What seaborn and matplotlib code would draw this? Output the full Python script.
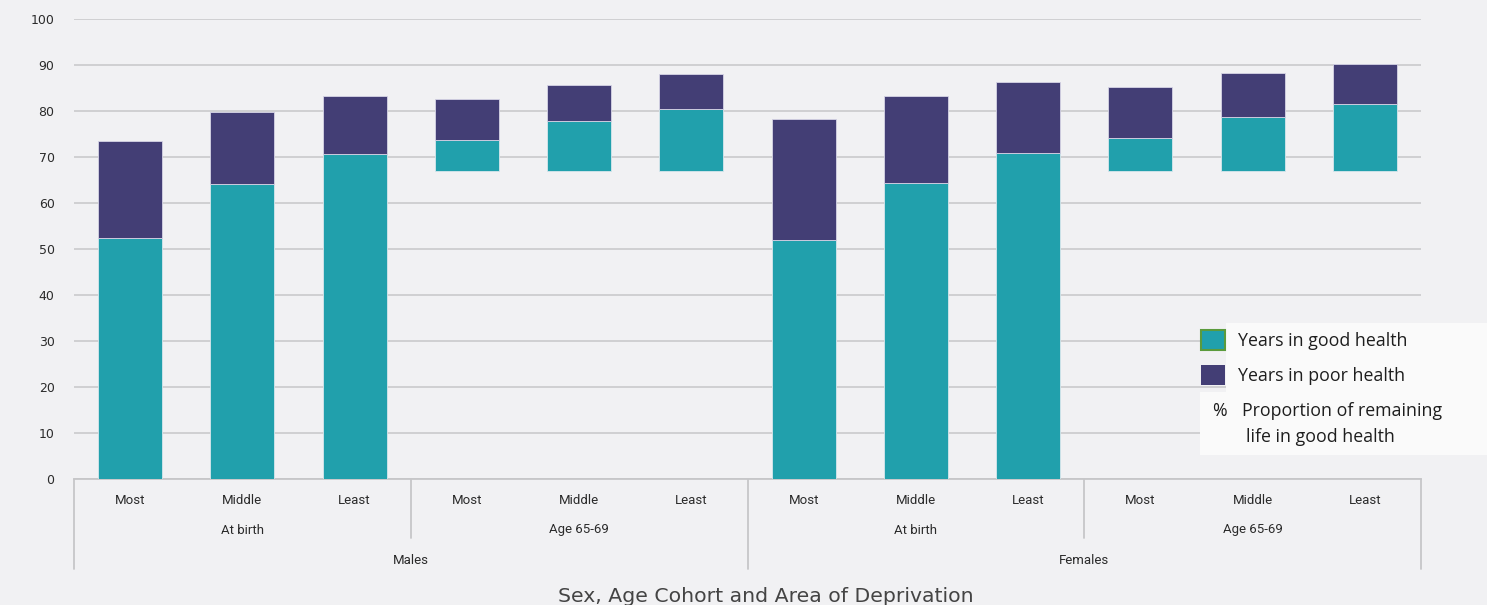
import numpy as np
import pandas as pd
import matplotlib
matplotlib.use("Agg")
import matplotlib.pyplot as plt
import seaborn as sns
from matplotlib.patches import Rectangle
from matplotlib.lines import Line2D

# ---- data ----
sexes = ["Males", "Females"]
cohorts = ["At birth", "Age 65-69"]
deprivation = ["Most", "Middle", "Least"]

# age at which each bar starts (0 for birth cohort, 67 for the 65-69 cohort)
start_age = [0, 0, 0, 67, 67, 67, 0, 0, 0, 67, 67, 67]
# age reached in good health
good_health_to = [52.4, 64.1, 70.6, 73.7, 77.8, 80.4, 52.0, 64.3, 70.9, 74.1, 78.7, 81.5]
# total life expectancy
life_expectancy = [73.5, 79.8, 83.3, 82.6, 85.7, 88.0, 78.3, 83.3, 86.3, 85.2, 88.3, 90.2]

keys = [f"{s}|{c}|{d}" for s in sexes for c in cohorts for d in deprivation]
df = pd.DataFrame({
    "key": keys,
    "start": start_age,
    "good": np.array(good_health_to) - np.array(start_age),
    "poor": np.array(life_expectancy) - np.array(good_health_to),
    "good_top": good_health_to,
})

TEAL = "#21a0ac"
PURPLE = "#433e75"
BG = "#f1f1f3"
GRID = "#c6c6c8"
TEXT = "#2b2b2b"

sns.set_theme(style="whitegrid")
plt.rcParams["font.family"] = ["DejaVu Sans"]

fig = plt.figure(figsize=(14.87, 6.05), dpi=100, facecolor=BG)
W, H = 1487, 605
ax = fig.add_axes([74 / W, (H - 479) / H, (1421 - 74) / W, (479 - 19) / H])
ax.set_facecolor(BG)

sns.barplot(data=df, x="key", y="good", bottom=df["start"].values, order=keys,
            color=TEAL, saturation=1, width=0.57, errorbar=None,
            edgecolor="#d8e6ec", linewidth=0.6, ax=ax, zorder=3)
sns.barplot(data=df, x="key", y="poor", bottom=df["good_top"].values, order=keys,
            color=PURPLE, saturation=1, width=0.57, errorbar=None,
            edgecolor="#d6d4e6", linewidth=0.6, ax=ax, zorder=3)

ax.set_ylim(0, 100)
ax.set_xlim(-0.5, len(keys) - 0.5)
ax.set_yticks(range(0, 101, 10))
ax.yaxis.grid(True, color=GRID, linewidth=1.1)
ax.xaxis.grid(False)
for sp in ["top", "right", "left"]:
    ax.spines[sp].set_visible(False)
ax.spines["bottom"].set_color(GRID)
ax.spines["bottom"].set_linewidth(1.3)
ax.tick_params(axis="y", length=0, pad=14, labelsize=9, labelcolor=TEXT)
ax.tick_params(axis="x", length=0)
ax.set_xlabel("")
ax.set_ylabel("")

# hierarchical category labels
ax_h = 479 - 19
def yf(px):
    return -px / ax_h

cat_kw = dict(fontsize=9.5, family=["Roboto", "DejaVu Sans"], color=TEXT,
              ha="center", va="center")
ax.set_xticks(range(len(keys)))
ax.set_xticklabels([])
trans = ax.get_xaxis_transform()
for i, k in enumerate(keys):
    ax.text(i, yf(21), k.split("|")[2], transform=trans, **cat_kw)
for gi in range(4):
    ax.text(gi * 3 + 1, yf(51), cohorts[gi % 2], transform=trans, **cat_kw)
for si, s in enumerate(sexes):
    ax.text(si * 6 + 2.5, yf(81), s, transform=trans, **cat_kw)

# separators between groups
for xb, depth in [(-0.5, 90), (2.5, 59), (5.5, 90), (8.5, 59), (11.5, 90)]:
    ax.add_line(Line2D([xb, xb], [0, yf(depth)], transform=trans, color=GRID,
                       linewidth=1.3, clip_on=False))

fig.text(766 / W, 1 - 596 / H, "Sex, Age Cohort and Area of Deprivation",
         ha="center", va="center", fontsize=14.7, color="#444444")

# legend panel
LEG_BG = "#fafafa"
fig.patches.append(Rectangle((1226 / W, 1 - 392 / H), (W - 1226) / W, 69 / H,
                             transform=fig.transFigure, facecolor=LEG_BG,
                             edgecolor="none", zorder=5))
fig.patches.append(Rectangle((1200 / W, 1 - 455 / H), (W - 1200) / W, 63 / H,
                             transform=fig.transFigure, facecolor=LEG_BG,
                             edgecolor="none", zorder=5))
fig.patches.append(Rectangle((1201 / W, 1 - 350 / H), 24 / W, 20 / H,
                             transform=fig.transFigure, facecolor=TEAL,
                             edgecolor="#5b9b3c", linewidth=1.5, zorder=6))
fig.patches.append(Rectangle((1201 / W, 1 - 385 / H), 24 / W, 20 / H,
                             transform=fig.transFigure, facecolor=PURPLE,
                             edgecolor="none", zorder=6))
leg_font = ["Open Sans", "DejaVu Sans"]
for (x, y, s) in [(1238, 341, "Years in good health"),
                  (1238, 376, "Years in poor health"),
                  (1212, 411, "%"),
                  (1242, 411, "Proportion of remaining"),
                  (1246, 437, "life in good health")]:
    fig.text(x / W, 1 - y / H, s, ha="left", va="center", fontsize=12.8,
             family=leg_font, color="#1e1e1e", zorder=7)

fig.savefig("out.png", dpi=100, facecolor=BG)
